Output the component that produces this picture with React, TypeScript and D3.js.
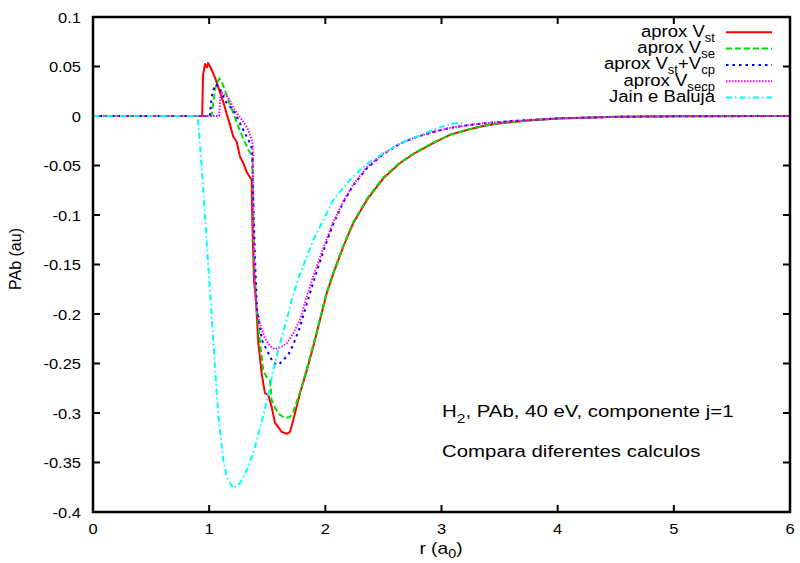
import React from "react";
import * as d3 from "d3";

const xTicks = [0, 1, 2, 3, 4, 5, 6];
const yTicks = [0.1, 0.05, 0, -0.05, -0.1, -0.15, -0.2, -0.25, -0.3, -0.35, -0.4];

// aprox V_st (red, solid)
const vst: [number, number][] = [
  [0, 0], [0.9, 0], [0.94, 0], [0.947, 0.041], [0.964, 0.0525], [0.981, 0.049], [0.99, 0.0535],
  [1.007, 0.05], [1.024, 0.046], [1.059, 0.036], [1.093, 0.024], [1.122, 0.014], [1.151, 0.002],
  [1.179, -0.009], [1.208, -0.021], [1.237, -0.026], [1.265, -0.041], [1.294, -0.0475],
  [1.323, -0.0566], [1.366, -0.0646], [1.371, -0.105], [1.386, -0.166], [1.403, -0.186],
  [1.423, -0.229], [1.452, -0.26], [1.48, -0.28], [1.509, -0.282], [1.538, -0.294], [1.567, -0.31],
  [1.593, -0.314], [1.624, -0.319], [1.667, -0.321], [1.696, -0.319], [1.724, -0.307],
  [1.782, -0.28], [1.84, -0.257], [1.896, -0.233], [1.954, -0.206], [2.012, -0.179],
  [2.069, -0.159], [2.155, -0.132], [2.241, -0.108], [2.356, -0.085], [2.499, -0.063],
  [2.643, -0.0475], [2.786, -0.0364], [2.929, -0.0273], [3.073, -0.019], [3.217, -0.0141],
  [3.36, -0.0101], [3.503, -0.0074], [3.75, -0.0045], [4.0, -0.0025], [4.5, -0.0008],
  [5.0, -0.0002], [6.0, 0],
];

// aprox V_se (green, dashed)
const vse: [number, number][] = [
  [0, 0], [1.02, 0], [1.035, 0.0131], [1.05, 0.026], [1.065, 0.033], [1.087, 0.038],
  [1.108, 0.0346], [1.136, 0.026], [1.165, 0.016], [1.208, 0.003], [1.251, -0.0108],
  [1.294, -0.023], [1.337, -0.034], [1.371, -0.041], [1.377, -0.085], [1.386, -0.145],
  [1.409, -0.196], [1.438, -0.229], [1.466, -0.257], [1.495, -0.264], [1.524, -0.267],
  [1.538, -0.287], [1.567, -0.295], [1.61, -0.302], [1.653, -0.305], [1.696, -0.304],
  [1.724, -0.299], [1.782, -0.279], [1.84, -0.2556], [1.896, -0.231], [1.954, -0.205],
  [2.012, -0.178], [2.069, -0.158], [2.155, -0.131], [2.241, -0.107], [2.356, -0.084],
  [2.499, -0.062], [2.643, -0.047], [2.786, -0.036], [2.929, -0.027], [3.073, -0.019],
  [3.217, -0.014], [3.36, -0.01], [3.503, -0.0073], [3.75, -0.0045], [4.0, -0.0025],
  [4.5, -0.0008], [5.0, -0.0002], [6.0, 0],
];

// aprox V_st + V_cp (blue, dotted)
const vstcp: [number, number][] = [
  [0, 0], [1.005, 0], [1.016, 0.0131], [1.027, 0.0232], [1.044, 0.029], [1.059, 0.032],
  [1.08, 0.03], [1.102, 0.025], [1.136, 0.016], [1.165, 0.011], [1.208, 0.006], [1.251, -0.004],
  [1.28, -0.0108], [1.323, -0.0209], [1.351, -0.0273], [1.371, -0.034], [1.377, -0.075],
  [1.395, -0.145], [1.412, -0.196], [1.438, -0.213], [1.452, -0.226], [1.495, -0.236],
  [1.524, -0.243], [1.552, -0.2495], [1.595, -0.2515], [1.638, -0.2465], [1.681, -0.241],
  [1.724, -0.231], [1.782, -0.213], [1.84, -0.19], [1.896, -0.168], [1.954, -0.147],
  [2.012, -0.127], [2.069, -0.109], [2.155, -0.087], [2.241, -0.07], [2.356, -0.053],
  [2.499, -0.0385], [2.643, -0.028], [2.786, -0.0212], [2.929, -0.0162], [3.073, -0.0121],
  [3.217, -0.0095], [3.36, -0.0075], [3.503, -0.006], [3.75, -0.004], [4.0, -0.0025],
  [4.5, -0.0009], [5.0, -0.0003], [6.0, 0],
];

// aprox V_secp (magenta, fine dots)
const vsecp: [number, number][] = [
  [0, 0], [1.085, 0], [1.097, 0.0186], [1.108, 0.024], [1.122, 0.022], [1.151, 0.02],
  [1.179, 0.016], [1.208, 0.008], [1.251, 0.001], [1.294, -0.0057], [1.337, -0.0141],
  [1.366, -0.0242], [1.376, -0.03], [1.38, -0.1], [1.395, -0.178], [1.409, -0.196],
  [1.438, -0.21], [1.48, -0.2245], [1.524, -0.2323], [1.567, -0.2355], [1.61, -0.234],
  [1.667, -0.2296], [1.724, -0.2195], [1.782, -0.206], [1.84, -0.1825], [1.896, -0.162],
  [1.954, -0.143], [2.012, -0.124], [2.069, -0.107], [2.155, -0.086], [2.241, -0.069],
  [2.356, -0.052], [2.499, -0.038], [2.643, -0.0278], [2.786, -0.021], [2.929, -0.016],
  [3.073, -0.012], [3.217, -0.0094], [3.36, -0.0074], [3.503, -0.006], [3.75, -0.004],
  [4.0, -0.0025], [4.5, -0.0009], [5.0, -0.0003], [6.0, 0],
];

// Jain e Baluja (cyan, dash-dot)
const jain: [number, number][] = [
  [0, 0], [0.9, 0], [0.906, -0.0074], [0.936, -0.0512], [0.964, -0.1017], [0.993, -0.1522],
  [1.022, -0.2027], [1.05, -0.2532], [1.079, -0.3037], [1.122, -0.3475], [1.151, -0.3643],
  [1.179, -0.371], [1.208, -0.376], [1.265, -0.371], [1.323, -0.3576], [1.38, -0.3407],
  [1.438, -0.315], [1.495, -0.2889], [1.552, -0.2566], [1.61, -0.2296], [1.667, -0.2061],
  [1.71, -0.1859], [1.767, -0.1646], [1.84, -0.1421], [1.896, -0.1253], [1.954, -0.1118],
  [2.012, -0.0983], [2.069, -0.0848], [2.126, -0.0765], [2.212, -0.0646], [2.298, -0.0545],
  [2.384, -0.0461], [2.499, -0.0377], [2.643, -0.0276], [2.786, -0.0209], [2.929, -0.0141],
  [3.073, -0.0081], [3.131, -0.0074], [3.202, -0.0074],
];

const W = 800;
const H = 563;
const L = 93, R = 790, T = 17, B = 512;

const FONT = "'Liberation Sans', Arial, Helvetica, sans-serif";
const SX = 1.2;
const SX_LEG = 1.09;

export default function App() {
  const x = d3.scaleLinear().domain([0, 6]).range([L, R]);
  const y = d3.scaleLinear().domain([-0.4, 0.1]).range([B, T]);
  const line = d3
    .line<[number, number]>()
    .x((d) => x(d[0]))
    .y((d) => y(d[1]));

  const series = [
    { name: "st", data: vst, color: "#ff0000", dash: "none" },
    { name: "se", data: vse, color: "#00e000", dash: "6,3" },
    { name: "stcp", data: vstcp, color: "#0000ff", dash: "2.5,4" },
    { name: "secp", data: vsecp, color: "#ff00ff", dash: "1.5,1.5" },
    { name: "jain", data: jain, color: "#00ffff", dash: "6,3,1.5,3" },
  ];

  const legendY = [32.3, 48.6, 64.9, 81.2, 97.5];
  const tickLen = 7;
  const subStyle = { fontSize: 12 };

  const legendLabels = [
    <>
      aprox V<tspan dy={5} style={subStyle}>st</tspan>
    </>,
    <>
      aprox V<tspan dy={5} style={subStyle}>se</tspan>
    </>,
    <>
      aprox V<tspan dy={5} style={subStyle}>st</tspan>
      <tspan dy={-5}>+V</tspan>
      <tspan dy={5} style={subStyle}>cp</tspan>
    </>,
    <>
      aprox V<tspan dy={5} style={subStyle}>secp</tspan>
    </>,
    <>Jain e Baluja</>,
  ];

  return (
    <svg
      width={W}
      height={H}
      style={{ position: "absolute", left: 0, top: 0, background: "#fff" }}
      fontFamily={FONT}
    >
      <rect x={0} y={0} width={W} height={H} fill="#fff" />
      <defs>
        <clipPath id="plotclip">
          <rect x={L} y={T} width={R - L} height={B - T} />
        </clipPath>
      </defs>

      {/* y ticks */}
      {yTicks.map((t) => (
        <g key={"y" + t}>
          <line x1={L} x2={L + tickLen} y1={y(t)} y2={y(t)} stroke="#000" strokeWidth={2} />
          <line x1={R} x2={R - tickLen} y1={y(t)} y2={y(t)} stroke="#000" strokeWidth={2} />
          <text
            transform={`translate(81, ${y(t) + 5.5}) scale(1.1, 1)`}
            textAnchor="end"
            fontSize={15}
            fill="#000"
          >
            {String(t)}
          </text>
        </g>
      ))}

      {/* x ticks */}
      {xTicks.map((t) => (
        <g key={"x" + t}>
          <line x1={x(t)} x2={x(t)} y1={B} y2={B - tickLen} stroke="#000" strokeWidth={2} />
          <line x1={x(t)} x2={x(t)} y1={T} y2={T + tickLen} stroke="#000" strokeWidth={2} />
          <text
            transform={`translate(${x(t)}, 534) scale(1.1, 1)`}
            textAnchor="middle"
            fontSize={15}
            fill="#000"
          >
            {String(t)}
          </text>
        </g>
      ))}

      {/* series */}
      <g clipPath="url(#plotclip)">
        {series.map((s) => (
          <path
            key={s.name}
            d={line(s.data) || ""}
            fill="none"
            stroke={s.color}
            strokeWidth={2}
            strokeDasharray={s.dash}
            strokeLinejoin="round"
          />
        ))}
      </g>

      {/* frame */}
      <rect x={L} y={T} width={R - L} height={B - T} fill="none" stroke="#000" strokeWidth={2.5} />

      {/* legend */}
      {series.map((s, i) => (
        <g key={"leg" + s.name}>
          <text
            transform={`translate(715, ${legendY[i] + 4.5}) scale(${SX_LEG}, 1)`}
            textAnchor="end"
            fontSize={17}
            fill="#000"
          >
            {legendLabels[i]}
          </text>
          <line
            x1={726}
            x2={772}
            y1={legendY[i]}
            y2={legendY[i]}
            stroke={s.color}
            strokeWidth={2}
            strokeDasharray={s.dash}
          />
        </g>
      ))}

      {/* annotations */}
      <text transform={`translate(442, 417) scale(${SX}, 1)`} fontSize={17} fill="#000">
        H<tspan dy={5.5} style={{ fontSize: 13 }}>2</tspan>
        <tspan dy={-5.5}>, PAb, 40 eV, componente j=1</tspan>
      </text>
      <text transform={`translate(442, 457) scale(${SX}, 1)`} fontSize={17} fill="#000">
        Compara diferentes calculos
      </text>

      {/* axis labels */}
      <text
        transform={`translate(441, 554) scale(${SX}, 1)`}
        textAnchor="middle"
        fontSize={16}
        fill="#000"
      >
        r (a<tspan dy={4} style={subStyle}>0</tspan>
        <tspan dy={-4}>)</tspan>
      </text>
      <text
        transform={`translate(21, 259) rotate(-90)`}
        textAnchor="middle"
        fontSize={16}
        fill="#000"
      >
        PAb (au)
      </text>
    </svg>
  );
}
